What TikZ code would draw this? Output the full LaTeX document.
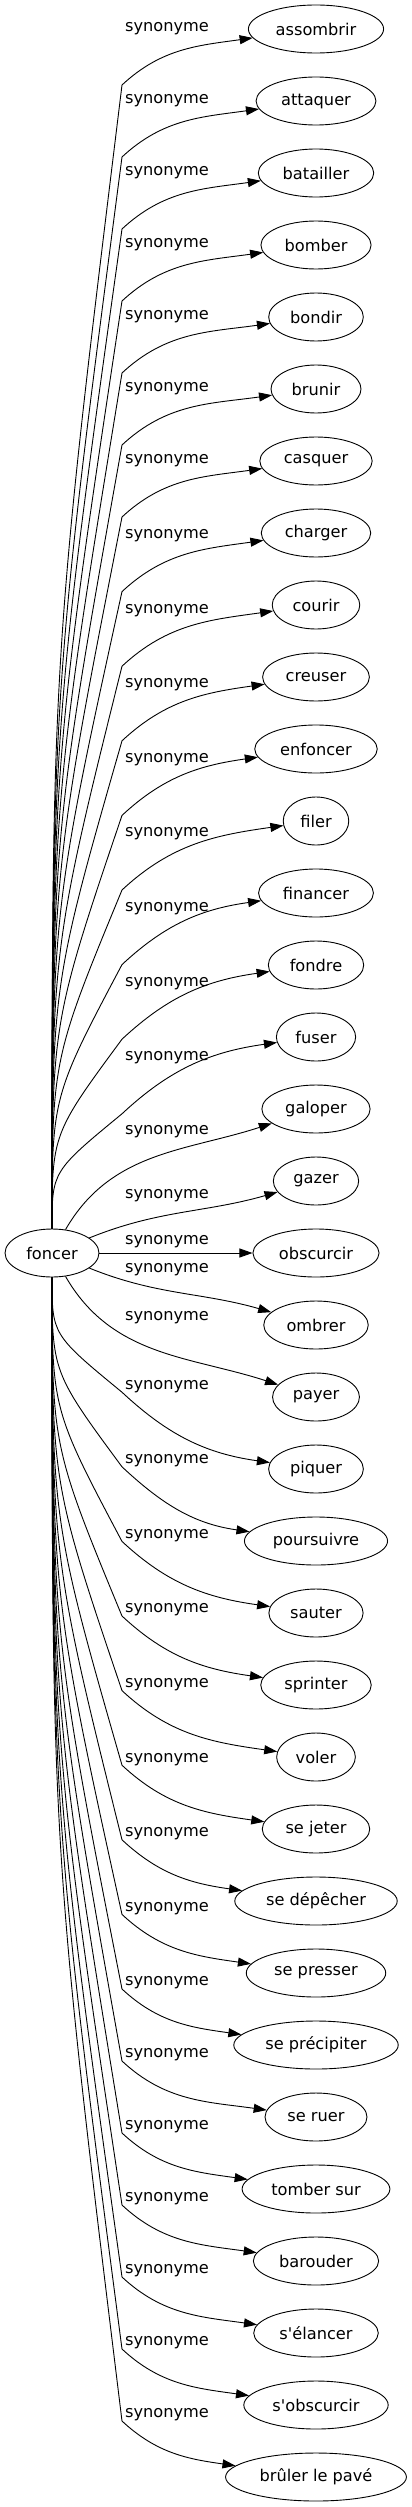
\documentclass[tikz,border=0pt]{standalone}
\usepackage{fontspec}
\setmainfont{DejaVu Sans}
\usetikzlibrary{arrows.meta,shapes.geometric}

\begin{document}
\begin{tikzpicture}[x=1pt, y=1pt, >={Triangle[length=13pt,width=9pt]}, line width=0.9pt,
  every node/.style={font=\fontsize{16.2}{19}\selectfont},
  word/.style={draw, ellipse, minimum height=48pt, inner xsep=7.5pt, inner ysep=0pt},
  lbl/.style={inner sep=0pt}]
  \useasboundingbox (0,0) rectangle (412,-2507);
  % centre word
  \node[word] (foncer) at (52,-1253) {foncer};
  % upper synonyms
  \foreach \nm/\txt [count=\i from 0] in {assombrir/assombrir, attaquer/attaquer,
      batailler/batailler, bomber/bomber, bondir/bondir, brunir/brunir, casquer/casquer,
      charger/charger, courir/courir, creuser/creuser, enfoncer/enfoncer, filer/filer,
      financer/financer, fondre/fondre, fuser/fuser} {
    \pgfmathsetmacro{\yt}{-(29+72*\i)}
    \pgfmathsetmacro{\d}{56+max(0,2.6*(\i-6))}
    \node[word] (\nm) at (316,\yt) {\txt};
    \coordinate (k\nm) at (122,\yt-\d);
    \draw[->] (foncer) .. controls (52,{(\yt-\d-1229)/2}) .. (k\nm) to[out=43,in=188] (\nm);
    \node[lbl] (l\nm) at (167,\yt-\d+56) {synonyme};
  }
  % near the middle
  \node[word] (galoper) at (316,-1109) {galoper};
  \node[word] (gazer) at (316,-1181) {gazer};
  \node[word] (obscurcir) at (316,-1253) {obscurcir};
  \node[word] (ombrer) at (316,-1325) {ombrer};
  \node[word] (payer) at (316,-1397) {payer};
  \draw[->] (foncer) to[out=60,in=198] (galoper);
  \draw[->] (foncer) to[out=22,in=196] (gazer);
  \draw[->] (foncer) -- (obscurcir);
  \draw[->] (foncer) to[out=-22,in=164] (ombrer);
  \draw[->] (foncer) to[out=-60,in=162] (payer);
  \node[lbl] (lgaloper) at (167,-1132) {synonyme};
  \node[lbl] (lgazer) at (167,-1196) {synonyme};
  \node[lbl] (lobscurcir) at (167,-1242) {synonyme};
  \node[lbl] (lombrer) at (167,-1270) {synonyme};
  \node[lbl] (lpayer) at (167,-1318) {synonyme};
  % lower synonyms
  \foreach \nm/\txt [count=\j from 20] in {piquer/piquer, poursuivre/poursuivre,
      sauter/sauter, sprinter/sprinter, voler/voler, sejeter/se jeter,
      sedepecher/se dépêcher, sepresser/se presser, seprecipiter/se précipiter,
      seruer/se ruer, tombersur/tomber sur, barouder/barouder,
      selancer/s\textquotesingle élancer, sobscurcir/s\textquotesingle obscurcir,
      brulerlepave/brûler le pavé} {
    \pgfmathsetmacro{\yt}{-(29+72*\j)}
    \pgfmathsetmacro{\d}{56+max(0,2.6*(28-\j))}
    \node[word] (\nm) at (316,\yt) {\txt};
    \coordinate (k\nm) at (122,\yt+\d);
    \draw[->] (foncer) .. controls (52,{(\yt+\d-1277)/2}) .. (k\nm) to[out=-43,in=172] (\nm);
    \node[lbl] (l\nm) at (167,\yt+\d+6) {synonyme};
  }
\end{tikzpicture}
\end{document}
